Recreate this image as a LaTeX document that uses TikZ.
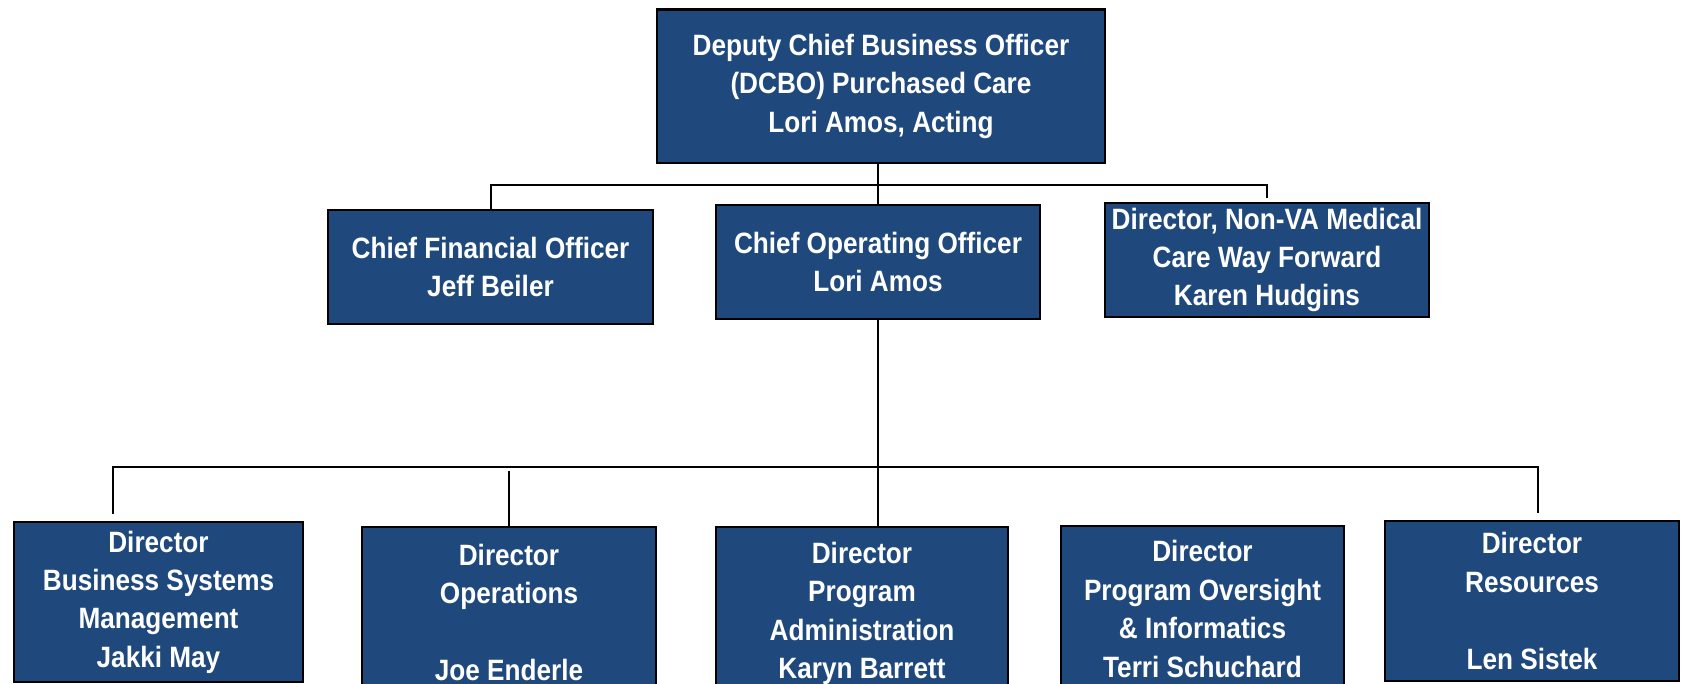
\documentclass[tikz,border=0pt]{standalone}
\usepackage{fontspec}
\setmainfont{Liberation Sans}[FakeStretch=0.89]
\definecolor{boxblue}{RGB}{31,73,125}
\begin{document}
\begin{tikzpicture}[x=0.5pt,y=-0.5pt, line join=miter,
  font=\bfseries\fontsize{14.7}{19.2}\selectfont,
  post/.style={draw=black, line width=1.3pt, fill=boxblue, text=white, align=center, inner sep=0pt},
  link/.style={draw=black, line width=1pt}]
\useasboundingbox (0,0) rectangle (1681,684);
% top
\node[post, minimum width=224pt, minimum height=76.75pt] (dcbo) at (881,86.25) {Deputy Chief Business Officer\\(DCBO) Purchased Care\\Lori Amos, Acting};
% second row
\node[post, minimum width=162.5pt, minimum height=57pt] (cfo) at (490.5,267) {Chief Financial Officer\\Jeff Beiler};
\node[post, minimum width=162pt, minimum height=57pt] (coo) at (878,262) {Chief Operating Officer\\Lori Amos};
\node[post, minimum width=162pt, minimum height=57pt] (nonva) at (1267,260) {Director, Non-VA Medical\\Care Way Forward\\Karen Hudgins};
% third row
\node[post, minimum width=144.5pt, minimum height=80pt] (bsm) at (158.5,602) {Director\\Business Systems\\Management\\Jakki May};
\node[post, minimum width=147pt, minimum height=85.5pt] (ops) at (509,612.5) {Director\\Operations\\\mbox{}\\Joe Enderle};
\node[post, minimum width=146pt, minimum height=86.5pt] (pa) at (862,613.5) {Director\\Program\\Administration\\Karyn Barrett};
\node[post, minimum width=141.5pt, minimum height=83pt] (poi) at (1202.5,609) {Director\\Program Oversight\\\& Informatics\\Terri Schuchard};
\node[post, minimum width=147pt, minimum height=80pt] (res) at (1532,601) {Director\\Resources\\\mbox{}\\Len Sistek};
\coordinate (b1) at (0,185);
\coordinate (b2) at (0,467);
\draw[link] (dcbo.south -| coo.north) -- (coo.north);
\draw[link] (cfo.north) |- (b1 -| nonva.north) -- ([yshift=2pt]nonva.north);
\draw[link] (coo.south) -- (coo.south |- pa.north);
\draw[link] ([xshift=-22.75pt,yshift=3.5pt]bsm.north) |- ([xshift=3pt]res.north |- b2) -- ([xshift=3pt,yshift=3.5pt]res.north);
\draw[link] (ops.north) -- ([yshift=-2pt]ops.north |- b2);
\end{tikzpicture}
\end{document}
